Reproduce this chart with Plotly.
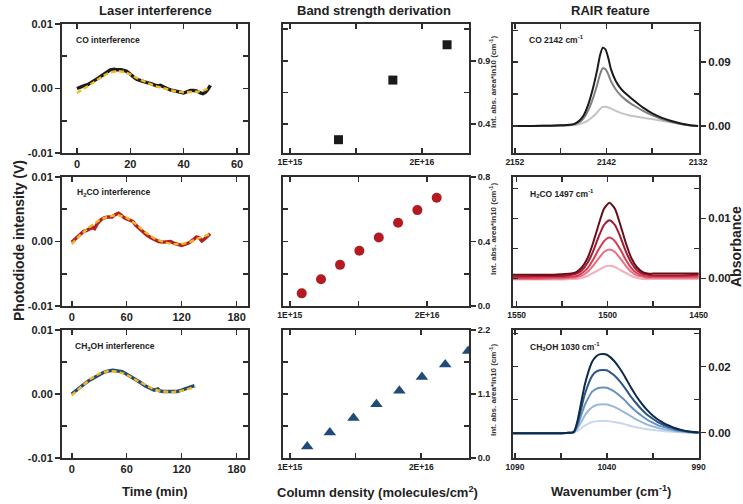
import plotly.graph_objects as go

# ---------------- DATA ----------------
# Laser interference: CO
co_t = [0, 1, 2.5, 4, 5, 6.5, 7.5, 9, 10, 11.5, 12.5, 14, 15, 16.5, 17.5, 18.5, 19.5, 20.5, 21.5, 22.5,
        23.75, 25, 26.25, 27.5, 28.75, 30, 31.25, 32.5, 33.75, 35, 36.25, 37.5, 38.75, 40, 41.25, 42.5,
        43.75, 45, 46.25, 47.2, 48.1, 49, 50]
co_v = [0.0000, 0.0002, 0.0004, 0.0006, 0.0009, 0.0012, 0.0015, 0.0019, 0.0022, 0.0026, 0.0029, 0.0030,
        0.0029, 0.0029, 0.0028, 0.0027, 0.0024, 0.0020, 0.0017, 0.0014, 0.0012, 0.0010, 0.0009, 0.0008,
        0.0006, 0.0004, 0.0005, 0.0002, 0.0000, -0.0002, -0.0003, -0.0005, -0.0006, -0.0007, -0.0005,
        -0.0003, -0.0003, -0.0004, -0.0007, -0.0008, -0.0006, -0.0002, 0.0005]
co_fit_t = [0, 2.5, 5, 7.5, 10, 12.5, 15, 17.5, 20, 22.5, 25, 27.5, 30, 32.5, 35, 37.5, 40, 42.5, 45, 47.5, 50]
co_fit_v = [-0.0007, -0.0001, 0.0006, 0.0013, 0.0020, 0.0025, 0.0027, 0.0026, 0.0022, 0.0016, 0.0011,
            0.0007, 0.0003, 0.0000, -0.0003, -0.0005, -0.0006, -0.0006, -0.0005, -0.0003, 0.0001]

# Laser interference: H2CO
h2co_t = [0, 5, 10, 13, 16, 20, 23, 25, 28, 32, 36, 40, 44, 48, 51, 54, 57, 60, 64, 67, 70, 74, 78, 82,
          86, 90, 95, 100, 104, 108, 112, 116, 120, 124, 128, 132, 136, 139, 142, 145, 148, 151]
h2co_v = [-0.0001, 0.0006, 0.0012, 0.0016, 0.0017, 0.0020, 0.0022, 0.0020, 0.0028, 0.0034, 0.0037, 0.0038,
          0.0038, 0.0042, 0.0044, 0.0041, 0.0037, 0.0035, 0.0033, 0.0031, 0.0025, 0.0020, 0.0014, 0.0010,
          0.0006, 0.0003, 0.0000, -0.0001, -0.0001, 0.0000, -0.0003, -0.0004, -0.0006, -0.0004, -0.0002,
          0.0002, 0.0007, 0.0006, 0.0001, 0.0004, 0.0008, 0.0012]
h2co_fit_t = [0, 10, 20, 30, 40, 50, 60, 70, 80, 90, 100, 110, 120, 130, 140, 150]
h2co_fit_v = [-0.0004, 0.0011, 0.0023, 0.0033, 0.0039, 0.0041, 0.0037, 0.0027, 0.0015, 0.0005, -0.0001,
              -0.0004, -0.0004, 0.0000, 0.0006, 0.0011]

# Laser interference: CH3OH
ch3oh_t = [0, 5, 10, 15, 20, 25, 30, 35, 40, 45, 50, 55, 60, 65, 70, 75, 80, 85, 90, 94, 96, 100, 105,
           110, 115, 120, 125, 130, 134]
ch3oh_v = [0.0000, 0.0006, 0.0012, 0.0017, 0.0022, 0.0026, 0.0030, 0.0034, 0.0036, 0.0037, 0.0036, 0.0035,
           0.0031, 0.0027, 0.0022, 0.0018, 0.0013, 0.0009, 0.0006, 0.0008, 0.0005, 0.0004, 0.0004, 0.0004,
           0.0004, 0.0006, 0.0009, 0.0012, 0.0013]
ch3oh_fit_t = [0, 10, 20, 30, 40, 50, 60, 70, 80, 90, 100, 110, 120, 130, 135]
ch3oh_fit_v = [-0.0002, 0.0011, 0.0023, 0.0032, 0.0036, 0.0035, 0.0030, 0.0022, 0.0014, 0.0007, 0.0004,
               0.0003, 0.0005, 0.0009, 0.0011]

# Band strength derivation
co_cd = [8.0e15, 1.583e16, 2.364e16]
co_area = [0.276, 0.747, 1.026]
h2co_cd = [2.66e15, 5.33e15, 7.96e15, 1.063e16, 1.332e16, 1.599e16, 1.866e16, 2.133e16]
h2co_area = [0.078, 0.166, 0.255, 0.343, 0.425, 0.516, 0.595, 0.672]
ch3oh_cd = [3.5e15, 6.77e15, 1.019e16, 1.351e16, 1.683e16, 2.009e16, 2.346e16, 2.678e16]
ch3oh_area = [0.196, 0.438, 0.685, 0.922, 1.158, 1.394, 1.607, 1.838]

# RAIR feature: CO 2142
co_wn = [2152, 2150, 2148, 2147, 2146, 2145.5, 2145, 2144.5, 2144, 2143.5, 2143, 2142.7, 2142.4, 2142.1,
         2141.8, 2141.5, 2141, 2140.5, 2140, 2139.5, 2139, 2138, 2137, 2136, 2135, 2134, 2133, 2132]
co_abs = [
    [0.0000, 0.0001, 0.0003, 0.0005, 0.0009, 0.0014, 0.0025, 0.0045, 0.0080, 0.0130, 0.0195, 0.0240, 0.0270,
     0.0272, 0.0262, 0.0245, 0.0215, 0.0190, 0.0168, 0.0150, 0.0138, 0.0118, 0.0098, 0.0075, 0.0052, 0.0030,
     0.0012, 0.0000],
    [0.0000, 0.0002, 0.0005, 0.0008, 0.0014, 0.0025, 0.0050, 0.0110, 0.0220, 0.0380, 0.0590, 0.0730, 0.0815,
     0.0800, 0.0730, 0.0630, 0.0520, 0.0440, 0.0380, 0.0330, 0.0290, 0.0215, 0.0150, 0.0100, 0.0062, 0.0033,
     0.0012, 0.0000],
    [0.0000, 0.0002, 0.0006, 0.0010, 0.0018, 0.0030, 0.0070, 0.0150, 0.0300, 0.0520, 0.0800, 0.1000, 0.1106,
     0.1080, 0.0960, 0.0800, 0.0640, 0.0540, 0.0470, 0.0415, 0.0360, 0.0260, 0.0180, 0.0120, 0.0075, 0.0040,
     0.0015, 0.0000],
]
co_colors = ["#c4c4c4", "#808080", "#1a1a1a"]

# RAIR feature: H2CO 1497
h2co_wn = [1552, 1540, 1530, 1525, 1520, 1517, 1514, 1511, 1508, 1505, 1502, 1499, 1496, 1493, 1490, 1487,
           1484, 1481, 1478, 1475, 1470, 1460, 1450]
h2co_abs = [
    [-0.0002, -0.0002, -0.0002, -0.0002, -0.0001, -0.0001, 0.0001, 0.0004, 0.0009, 0.0014, 0.0019, 0.0021,
     0.0019, 0.0014, 0.0009, 0.0004, 0.0001, -0.0001, -0.0001, -0.0001, -0.0001, -0.0001, -0.0001],
    [-0.0001, -0.0001, 0.0000, 0.0000, 0.0001, 0.0002, 0.0005, 0.0011, 0.0021, 0.0033, 0.0044, 0.0048,
     0.0044, 0.0033, 0.0021, 0.0011, 0.0005, 0.0003, 0.0001, 0.0001, 0.0001, 0.0001, 0.0001],
    [0.0001, 0.0001, 0.0002, 0.0002, 0.0003, 0.0004, 0.0009, 0.0017, 0.0031, 0.0048, 0.0062, 0.0068,
     0.0062, 0.0048, 0.0031, 0.0017, 0.0009, 0.0005, 0.0003, 0.0003, 0.0003, 0.0003, 0.0003],
    [0.0003, 0.0004, 0.0004, 0.0004, 0.0006, 0.0008, 0.0014, 0.0026, 0.0045, 0.0069, 0.0089, 0.0097,
     0.0089, 0.0069, 0.0045, 0.0026, 0.0014, 0.0008, 0.0006, 0.0005, 0.0005, 0.0005, 0.0006],
    [0.0006, 0.0006, 0.0006, 0.0007, 0.0008, 0.0011, 0.0019, 0.0034, 0.0059, 0.0089, 0.0116, 0.0126,
     0.0116, 0.0089, 0.0059, 0.0034, 0.0019, 0.0011, 0.0008, 0.0008, 0.0008, 0.0008, 0.0008],
]
h2co_colors = ["#f5b0ba", "#ea6d80", "#d83c52", "#a11c30", "#6a0d1a"]

# RAIR feature: CH3OH 1030
ch3oh_wn = [1091, 1080, 1070, 1062, 1058, 1056, 1054, 1052, 1050, 1048, 1046, 1044, 1042, 1040, 1038, 1036,
            1033, 1030, 1027, 1024, 1021, 1018, 1015, 1012, 1009, 1006, 1003, 1000, 996, 990]
ch3oh_abs = [
    [-0.0002, -0.0002, -0.0002, -0.0001, 0.0001, 0.0005, 0.0013, 0.0021, 0.0027, 0.0032, 0.0034, 0.0035,
     0.0035, 0.0035, 0.0034, 0.0032, 0.0029, 0.0025, 0.0020, 0.0016, 0.0013, 0.0010, 0.0008, 0.0006, 0.0004,
     0.0003, 0.0002, 0.0001, 0.0000, -0.0001],
    [-0.0002, -0.0002, -0.0002, -0.0001, 0.0001, 0.0013, 0.0032, 0.0052, 0.0067, 0.0077, 0.0083, 0.0085,
     0.0086, 0.0085, 0.0082, 0.0078, 0.0070, 0.0060, 0.0050, 0.0040, 0.0032, 0.0024, 0.0019, 0.0014, 0.0010,
     0.0008, 0.0005, 0.0003, 0.0001, 0.0000],
    [-0.0002, -0.0002, -0.0002, -0.0001, 0.0001, 0.0020, 0.0052, 0.0083, 0.0106, 0.0124, 0.0132, 0.0136,
     0.0137, 0.0136, 0.0131, 0.0125, 0.0112, 0.0097, 0.0079, 0.0064, 0.0051, 0.0039, 0.0030, 0.0022, 0.0017,
     0.0012, 0.0008, 0.0005, 0.0002, 0.0000],
    [-0.0002, -0.0002, -0.0002, -0.0001, 0.0002, 0.0028, 0.0072, 0.0116, 0.0148, 0.0172, 0.0184, 0.0189,
     0.0190, 0.0189, 0.0182, 0.0174, 0.0156, 0.0134, 0.0110, 0.0089, 0.0070, 0.0054, 0.0042, 0.0031, 0.0023,
     0.0017, 0.0011, 0.0007, 0.0003, 0.0000],
    [-0.0002, -0.0002, -0.0002, -0.0001, 0.0002, 0.0035, 0.0090, 0.0145, 0.0185, 0.0215, 0.0230, 0.0237,
     0.0238, 0.0236, 0.0228, 0.0217, 0.0195, 0.0168, 0.0138, 0.0111, 0.0088, 0.0068, 0.0052, 0.0039, 0.0029,
     0.0021, 0.0014, 0.0009, 0.0004, 0.0000],
]
ch3oh_colors = ["#c9d8ec", "#9ab7dc", "#6790c3", "#2d5686", "#0c2a4b"]

# ---------------- LAYOUT GEOMETRY ----------------
W, H = 743, 504
L, R, T, B = 62, 44, 24, 46
PW, PH = W - L - R, H - T - B
COLS = [(62, 248), (283, 469), (513, 699)]
ROWS = [(24, 153), (177, 306), (330, 458)]


def xp(px):
    return (px - L) / PW


def yp(py):
    return (H - B - py) / PH


FONT = "Liberation Sans, Arial, Helvetica, sans-serif"
AX = "#2e2e2e"

fig = go.Figure()


def ax_name(k, letter):
    return f"{letter}axis" if k == 1 else f"{letter}axis{k}"


def ref(k, letter):
    return letter if k == 1 else f"{letter}{k}"


def add(k, trace, yk=None):
    trace.update(xaxis=ref(k, "x"), yaxis=ref(yk or k, "y"), showlegend=False, hoverinfo="skip")
    fig.add_trace(trace)


# Left column: laser interference
left_sets = [(co_t, co_v, co_fit_t, co_fit_v, "#1c1c1c"),
             (h2co_t, h2co_v, h2co_fit_t, h2co_fit_v, "#b11f24"),
             (ch3oh_t, ch3oh_v, ch3oh_fit_t, ch3oh_fit_v, "#1f4a73")]
for r, (t, v, ft, fv, c) in enumerate(left_sets):
    k = r * 3 + 1
    add(k, go.Scatter(x=t, y=v, mode="lines", line=dict(color=c, width=3.4)))
    add(k, go.Scatter(x=ft, y=fv, mode="lines", line=dict(color="#f2b822", width=2.4, dash="5px,3px")))

# Middle column: band strengths
mid_sets = [(co_cd, co_area, "square", "#1a1a1a", 9),
            (h2co_cd, h2co_area, "circle", "#b31b22", 10),
            (ch3oh_cd, ch3oh_area, "triangle-up", "#1f4b78", 11)]
for r, (x, y, sym, c, s) in enumerate(mid_sets):
    k = r * 3 + 2
    add(k, go.Scatter(x=x, y=y, mode="markers", marker=dict(symbol=sym, color=c, size=s, line=dict(width=0))))

# Right column: spectra
right_sets = [(co_wn, co_abs, co_colors), (h2co_wn, h2co_abs, h2co_colors), (ch3oh_wn, ch3oh_abs, ch3oh_colors)]
for r, (x, ys, cols) in enumerate(right_sets):
    k = r * 3 + 3
    for y, c in zip(ys, cols):
        add(k, go.Scatter(x=x, y=y, mode="lines", line=dict(color=c, width=2, shape="spline", smoothing=0.6)))


def common(rng, fsize):
    return dict(range=rng, showline=True, linecolor=AX, linewidth=2, ticklen=5, tickwidth=1.6,
                tickcolor=AX, showgrid=False, zeroline=False, tickmode="array", fixedrange=True,
                automargin=False, tickfont=dict(family=FONT, size=fsize, color="#222", weight="bold"))


x_specs = [
    # left column
    ([-5.6, 64.1], [0, 20, 40, 60], ["0", "20", "40", "60"], [], 11),
    ([-10.6, 192.4], [0, 60, 120, 180], ["0", "60", "120", "180"], [], 11),
    ([-10.6, 192.4], [0, 60, 120, 180], ["0", "60", "120", "180"], [], 11),
    # middle column
    ([0, 2.68e16], [1e15, 2e16], ["1E+15", "2E+16"], [1.05e16], 8.5),
    ([0.07e15, 2.58e16], [1e15, 2e16], ["1E+15", "2E+16"], [1.05e16], 8.5),
    ([0, 2.69e16], [1e15, 2e16], ["1E+15", "2E+16"], [1.05e16], 8.5),
    # right column
    ([2152.2, 2131.9], [2152, 2142, 2132], ["2152", "2142", "2132"], [2147, 2137], 8.5),
    ([1552, 1449.8], [1550, 1500, 1450], ["1550", "1500", "1450"], [1525, 1475], 8.5),
    ([1091.1, 989.8], [1090, 1040, 990], ["1090", "1040", "990"], [1065, 1015], 8.5),
]
y_specs = [
    ([-0.01001, 0.01001], [-0.01, 0, 0.01], ["-0.01", "0.00", "0.01"], [-0.005, 0.005], 11, "left"),
    ([-0.01001, 0.01001], [-0.01, 0, 0.01], ["-0.01", "0.00", "0.01"], [-0.005, 0.005], 11, "left"),
    ([-0.01001, 0.01001], [-0.01, 0, 0.01], ["-0.01", "0.00", "0.01"], [-0.005, 0.005], 11, "left"),
    ([0.171, 1.19], [0.4, 0.9], ["0.4", "0.9"], [0.65, 1.15], 9, "right"),
    ([-0.0005, 0.8005], [0, 0.4, 0.8], ["0.0", "0.4", "0.8"], [0.2, 0.6], 9, "right"),
    ([-0.001, 2.201], [0, 1.1, 2.2], ["0.0", "1.1", "2.2"], [0.55, 1.65], 9, "right"),
    ([-0.038, 0.144], [0, 0.09], ["0.00", "0.09"], [0.045, 0.135], 11.5, "right"),
    ([-0.0046, 0.0169], [0, 0.01], ["0.00", "0.01"], [0.005, 0.015], 11.5, "right"),
    ([-0.0077, 0.0311], [0, 0.02], ["0.00", "0.02"], [0.01, 0.03], 11.5, "right"),
]

layout_axes = {}
for c in range(3):
    for r in range(3):
        k = r * 3 + c + 1
        kk = k + 9  # overlay y axis for the inward mirrored ticks
        xs = x_specs[c * 3 + r]
        ys = y_specs[c * 3 + r]
        xdom = [xp(COLS[c][0]), xp(COLS[c][1])]
        ydom = [yp(ROWS[r][1]), yp(ROWS[r][0])]
        xa = common(xs[0], xs[4])
        xa.update(domain=xdom, anchor=ref(k, "y"), mirror="allticks", ticks="inside",
                  tickvals=xs[1], ticktext=xs[2],
                  minor=dict(tickmode="array", tickvals=xs[3], ticks="inside", ticklen=5, tickwidth=1.6,
                             tickcolor=AX, showgrid=False))
        layout_axes[ax_name(k, "x")] = xa
        ya = common(ys[0], ys[4])
        ya.update(domain=ydom, anchor=ref(k, "x"), side=ys[5], mirror=False, ticks="outside",
                  tickvals=ys[1], ticktext=ys[2],
                  minor=dict(tickmode="array", tickvals=ys[3], ticks="inside", ticklen=5, tickwidth=1.6,
                             tickcolor=AX, showgrid=False))
        layout_axes[ax_name(k, "y")] = ya
        yo = common(ys[0], ys[4])
        yo.update(overlaying=ref(k, "y"), anchor=ref(k, "x"), side="right" if ys[5] == "left" else "left",
                  ticks="inside", tickvals=ys[1] + ys[3], showticklabels=False)
        layout_axes[ax_name(kk, "y")] = yo
        add(k, go.Scatter(x=[None], y=[None], mode="lines"), yk=kk)

ann = []


def text(px, py, s, size, xanchor="center", angle=0, bold=True, color="#222"):
    ann.append(dict(x=xp(px), y=yp(py), xref="paper", yref="paper", text=s, showarrow=False,
                    xanchor=xanchor, yanchor="middle", textangle=angle,
                    font=dict(family=FONT, size=size, color=color, weight="bold" if bold else "normal")))


# column titles
text(155, 11, "Laser interference", 13)
text(374, 11, "Band strength derivation", 13)
text(610, 11, "RAIR feature", 13)
# panel labels
text(74, 40, "CO interference", 8.5, "left")
text(75, 192, "H<sub>2</sub>CO interference", 8.5, "left")
text(73, 346, "CH<sub>3</sub>OH interference", 8.5, "left")
text(527, 40, "CO 2142 cm<sup>-1</sup>", 8.5, "left")
text(528, 193, "H<sub>2</sub>CO 1497 cm<sup>-1</sup>", 8.5, "left")
text(528, 346, "CH<sub>3</sub>OH 1030 cm<sup>-1</sup>", 8.5, "left")
# axis titles
text(19, 241, "Photodiode intensity (V)", 14, angle=-90)
text(155, 491, "Time (min)", 13)
text(377, 492, "Column density (molecules/cm<sup>2</sup>)", 13)
text(611, 491, "Wavenumber (cm<sup>-1</sup>)", 13)
text(736, 247, "Absorbance", 14, angle=-90)
for cy in (82, 229, 390):
    text(493, cy, "Int. abs. area*ln10 (cm<sup>-1</sup>)", 8, angle=-90, color="#333")

fig.update_layout(
    width=W, height=H, margin=dict(l=L, r=R, t=T, b=B, autoexpand=False),
    paper_bgcolor="white", plot_bgcolor="white",
    font=dict(family=FONT, color="#222"),
    annotations=ann, showlegend=False, hovermode=False,
    **layout_axes,
)

fig.write_html("out.html", config={"displayModeBar": False, "staticPlot": True},
               post_script="document.body.style.margin='0px';document.body.style.padding='0px';")
